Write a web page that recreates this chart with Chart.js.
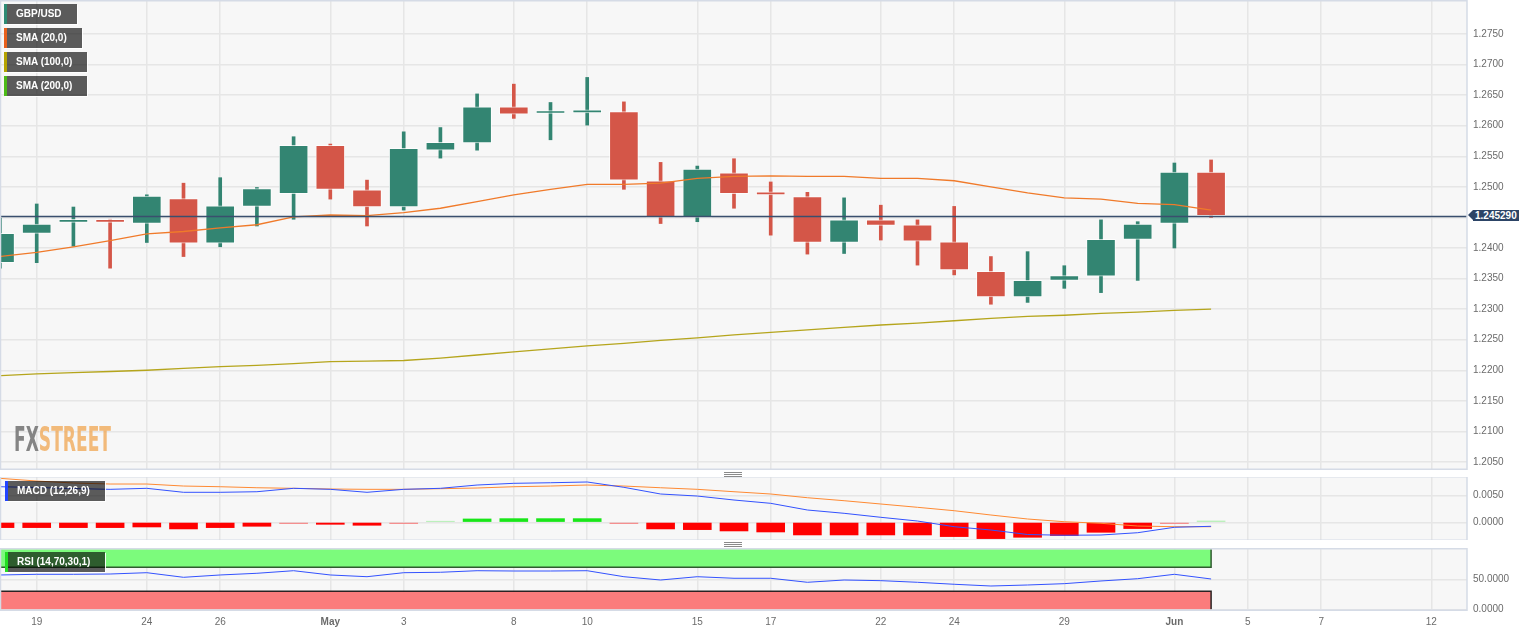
<!DOCTYPE html>
<html><head><meta charset="utf-8">
<script src="https://cdn.jsdelivr.net/npm/chart.js@4.4.0/dist/chart.umd.min.js"></script>
<style>
html,body{margin:0;padding:0;background:#fff;width:1536px;height:633px;overflow:hidden;font-family:"Liberation Sans",Arial,sans-serif;}
canvas{position:absolute;left:0;}
#c1{top:0}
#c2{top:477px}
#c3{top:548px}
.lg{position:absolute;height:20px;line-height:20px;background:rgba(0,0,0,0.63);color:#fff;font-weight:bold;font-size:10px;padding:0 15px 0 9px;border-left:3px solid;box-sizing:border-box;white-space:nowrap;box-shadow:1px 1px 0 rgba(255,255,255,0.9);}
.hd{position:absolute;left:724px;width:18px;height:1px;background:#8a8a8a;box-shadow:0 2px 0 #8a8a8a,0 4px 0 #8a8a8a;}
#tag{position:absolute;left:1473px;height:11px;line-height:11px;padding:0 2px;background:#2c4466;color:#fff;font-weight:bold;font-size:10px;}
#tag:before{content:"";position:absolute;left:-5px;top:0;border-top:5.5px solid transparent;border-bottom:5.5px solid transparent;border-right:5px solid #2c4466;}
#wm{position:absolute;left:14px;top:423px;font-family:"Liberation Sans Narrow","DejaVu Sans Condensed","Liberation Sans",sans-serif;font-weight:bold;font-size:33px;line-height:33px;transform-origin:0 0;white-space:nowrap;letter-spacing:0px;}
#wm .a{color:rgba(120,120,120,0.9)}
#wm .b{color:rgba(240,170,90,0.8)}
</style></head>
<body>
<canvas id="c1" width="1536" height="470"></canvas>
<canvas id="c2" width="1536" height="63"></canvas>
<canvas id="c3" width="1536" height="85"></canvas>
<div id="wm"><span class="a">FX</span><span class="b">STREET</span></div>
<div class="lg" style="left:4px;top:4px;border-left-color:#2e8b74">GBP/USD</div>
<div class="lg" style="left:4px;top:28px;border-left-color:#e8601c">SMA (20,0)</div>
<div class="lg" style="left:4px;top:52px;border-left-color:#b5a300">SMA (100,0)</div>
<div class="lg" style="left:4px;top:76px;border-left-color:#4cbb17">SMA (200,0)</div>
<div class="lg" style="left:5px;top:481px;border-left-color:#2244ff">MACD (12,26,9)</div>
<div class="lg" style="left:5px;top:552px;border-left-color:#22dd22">RSI (14,70,30,1)</div>
<div class="hd" style="top:472px"></div>
<div class="hd" style="top:542px"></div>
<div id="tag"></div>
<script>
// ---------- data ----------
const dates = ['04-18','04-19','04-20','04-21','04-24','04-25','04-26','04-27','04-28','05-01','05-02','05-03','05-04','05-05','05-08','05-09','05-10','05-11','05-12','05-15','05-16','05-17','05-18','05-19','05-22','05-23','05-24','05-25','05-26','05-29','05-30','05-31','06-01','06-02'];
const futureDates = ['06-05','06-06','06-07','06-08','06-09','06-12'];
const tickDates = ['04-19','04-24','04-26','05-01','05-03','05-08','05-10','05-15','05-17','05-22','05-24','05-29','06-01','06-05','06-07','06-12'];
const tickLabels = ['19','24','26','May','3','8','10','15','17','22','24','29','Jun','5','7','12'];
const monthLabels = ['May','Jun'];

const open  = [1.2376,1.2424,1.2442,1.2443,1.2440,1.2481,1.2408,1.2468,1.2489,1.2568,1.2495,1.2467,1.2560,1.2572,1.2631,1.2620,1.2621,1.2623,1.2510,1.2450,1.2523,1.2488,1.2484,1.2409,1.2446,1.2438,1.2410,1.2362,1.2320,1.2347,1.2354,1.2414,1.2440,1.2524];
const high  = [1.2449,1.2472,1.2467,1.2447,1.2487,1.2506,1.2515,1.2499,1.2582,1.2570,1.2511,1.2590,1.2597,1.2652,1.2668,1.2638,1.2679,1.2639,1.2540,1.2534,1.2546,1.2508,1.2491,1.2482,1.2470,1.2446,1.2468,1.2386,1.2394,1.2371,1.2446,1.2443,1.2539,1.2544];
const low   = [1.2367,1.2376,1.2403,1.2367,1.2409,1.2386,1.2402,1.2436,1.2447,1.2480,1.2436,1.2462,1.2547,1.2560,1.2612,1.2577,1.2601,1.2496,1.2440,1.2443,1.2465,1.2421,1.2390,1.2391,1.2413,1.2372,1.2356,1.2308,1.2311,1.2334,1.2327,1.2347,1.2400,1.2450];
const close = [1.2424,1.2439,1.2443,1.2442,1.2485,1.2408,1.2469,1.2497,1.2568,1.2496,1.2467,1.2563,1.2573,1.2631,1.2619,1.2621,1.2626,1.2511,1.2450,1.2529,1.2489,1.2487,1.2409,1.2446,1.2437,1.2411,1.2364,1.2320,1.2347,1.2355,1.2414,1.2439,1.2524,1.24529];

const sma20  = [1.2386,1.2393,1.2402,1.2412,1.2423,1.2427,1.2433,1.2438,1.2451,1.2454,1.2453,1.2458,1.2465,1.2476,1.2487,1.2496,1.2504,1.2504,1.2506,1.2514,1.2517,1.2518,1.2517,1.2517,1.2514,1.2514,1.2510,1.2500,1.2490,1.2482,1.2480,1.2473,1.2471,1.2462];
const sma100 = [1.2191,1.2194,1.2196,1.2198,1.2200,1.2203,1.2206,1.2208,1.2211,1.2214,1.2215,1.2216,1.2220,1.2225,1.2230,1.2235,1.2240,1.2244,1.2249,1.2253,1.2258,1.2262,1.2266,1.2270,1.2274,1.2277,1.2281,1.2285,1.2288,1.2290,1.2293,1.2295,1.2298,1.2300];

const macd   = [0.00669,0.00654,0.00635,0.00620,0.00639,0.00564,0.00564,0.00575,0.00639,0.00620,0.00564,0.00620,0.00639,0.00701,0.00733,0.00744,0.00758,0.00658,0.00532,0.00494,0.00419,0.00357,0.00231,0.00169,0.00094,0.00024,-0.00083,-0.00145,-0.00230,-0.00244,-0.00239,-0.00196,-0.00094,-0.00075];
const signal = [0.00827,0.00776,0.00739,0.00720,0.00720,0.00682,0.00669,0.00650,0.00639,0.00626,0.00620,0.00620,0.00632,0.00645,0.00669,0.00682,0.00701,0.00682,0.00650,0.00620,0.00575,0.00532,0.00462,0.00406,0.00344,0.00282,0.00218,0.00137,0.00062,0.00011,-0.00019,-0.00070,-0.00083,-0.00083];
const hist   = [-0.00100,-0.00100,-0.00100,-0.00100,-0.00088,-0.00125,-0.00100,-0.00075,-0.00025,-0.00038,-0.00056,-0.00025,0.00020,0.00063,0.00069,0.00069,0.00069,-0.00025,-0.00125,-0.00138,-0.00163,-0.00182,-0.00238,-0.00238,-0.00238,-0.00238,-0.00269,-0.00307,-0.00282,-0.00250,-0.00188,-0.00118,-0.00025,0.00025];

const rsi = [57.2,58.3,58.3,58.8,61.0,53.3,57.2,60.0,64.3,57.2,54.3,61.0,61.7,64.3,63.8,63.8,64.3,54.3,48.8,54.3,51.7,51.7,45.0,48.8,47.7,45.0,41.7,38.8,40.5,42.7,47.2,51.0,58.3,50.5];
const rsiLevels = {overbought:70, oversold:30, top:100, bottom:0};

const priceTicks = [1.2050,1.2100,1.2150,1.2200,1.2250,1.2300,1.2350,1.2400,1.2450,1.2500,1.2550,1.2600,1.2650,1.2700,1.2750];
const macdTicks = [0, 0.005];
const rsiTicks = [0, 50];

// ---------- helpers ----------
const allDates = dates.concat(futureDates);
const tickPos = tickDates.map(d => allDates.indexOf(d));
const idx = dates.map((d,i) => i);
const pts = arr => arr.map((v,i) => ({x:i, y:v}));
const last = dates.length - 1;

const GREEN = '#338572', RED = '#d45648';
const GRID = '#e6e6e6';
const X_MIN = 0.027, X_MAX = 39.973;

Chart.defaults.font.family = '"Liberation Sans", Arial, sans-serif';
Chart.defaults.font.size = 10;
Chart.defaults.color = '#6b6b6b';

function xScale(showLabels){
  return {
    type:'linear', min:X_MIN, max:X_MAX, offset:false,
    border:{display:false},
    grid:{color:GRID, lineWidth:1.5, drawTicks:false, offset:false},
    ticks:{display:true, autoSkip:false, maxRotation:0, padding:6,
      color: showLabels ? '#6b6b6b' : 'rgba(0,0,0,0)',
      font: ctx => ({size:10, weight: (ctx.tick && monthLabels.includes(ctx.tick.label)) ? 'bold' : 'normal'}),
      callback: v => { if (!showLabels) return ''; const k = tickPos.indexOf(v); return k >= 0 ? tickLabels[k] : ''; }},
    afterBuildTicks: s => { s.ticks = tickPos.map(v => ({value:v})); },
    afterFit: s => { s.height = showLabels ? 23 : 0; s.paddingLeft = 0; s.paddingRight = 0; }
  };
}
function yScale(min, max, ticks, fmt){
  return {
    type:'linear', position:'right', min:min, max:max,
    border:{display:false},
    grid:{color:GRID, lineWidth:1.5, drawTicks:false},
    ticks:{padding:6, color:'#6b6b6b', font:{size:10}, callback: v => fmt(v)},
    afterBuildTicks: s => { s.ticks = ticks.map(v => ({value:v})); },
    afterFit: s => { s.width = 69; s.paddingTop = 0; s.paddingBottom = 0; }
  };
}
const panel = {
  id:'panel',
  beforeDraw(chart){
    const {ctx, chartArea:a} = chart;
    ctx.save(); ctx.fillStyle = '#f7f7f7';
    ctx.fillRect(a.left, a.top, a.right - a.left, a.bottom - a.top); ctx.restore();
  },
  afterDraw(chart){
    const {ctx, chartArea:a} = chart;
    ctx.save(); ctx.strokeStyle = '#d5dbe6'; ctx.lineWidth = 1.5;
    ctx.strokeRect(a.left - 0.5, a.top - 0.25, a.right - a.left + 0.5, a.bottom - a.top + 0.5); ctx.restore();
  }
};
const priceLine = {
  id:'priceLine',
  afterDatasetsDraw(chart){
    const {ctx, chartArea:a, scales} = chart;
    const y = Math.round(scales.y.getPixelForValue(close[last])) + 0.5;
    ctx.save(); ctx.strokeStyle = '#3a4f6e'; ctx.lineWidth = 1.4;
    ctx.beginPath(); ctx.moveTo(a.left, y); ctx.lineTo(a.right, y); ctx.stroke(); ctx.restore();
  }
};
const common = {responsive:false, animation:false, devicePixelRatio:1, events:[],
  plugins:{legend:{display:false}, tooltip:{enabled:false}}};

// ---------- main price chart ----------
const candleColor = ctx => close[ctx.dataIndex] >= open[ctx.dataIndex] ? GREEN : RED;
const chart1 = new Chart(document.getElementById('c1'), {
  type:'bar',
  data:{datasets:[
    {type:'line', label:'SMA (20,0)', data:pts(sma20), borderColor:'#f07a2a', borderWidth:1.3, pointRadius:0, tension:0, order:0},
    {type:'line', label:'SMA (100,0)', data:pts(sma100), borderColor:'#b5a51c', borderWidth:1.3, pointRadius:0, tension:0, order:0},
    {label:'body', data:idx.map(i => ({x:i, y:[open[i], close[i]]})), backgroundColor:candleColor,
      borderColor:'rgba(255,255,255,0.7)', borderWidth:1, borderSkipped:false, barThickness:29, minBarLength:3, grouped:false, order:1},
    {label:'wick', data:idx.map(i => ({x:i, y:[low[i], high[i]]})), backgroundColor:candleColor,
      borderWidth:0, barThickness:3, grouped:false, order:2}
  ]},
  options:Object.assign({}, common, {
    layout:{padding:{top:1, bottom:1, left:1, right:0}},
    scales:{x:xScale(false), y:yScale(1.20385, 1.28040, priceTicks, v => v.toFixed(4))}
  }),
  plugins:[panel, priceLine]
});

// ---------- MACD ----------
const histColor = ctx => {
  const v = hist[ctx.dataIndex], small = Math.abs(v) < 0.0003;
  return v >= 0 ? (small ? '#b4efb4' : '#19e619') : (small ? '#f58a8a' : '#ff0000');
};
new Chart(document.getElementById('c2'), {
  type:'bar',
  data:{datasets:[
    {type:'line', label:'MACD', data:pts(macd), borderColor:'#3352ff', borderWidth:1, pointRadius:0, tension:0, order:0},
    {type:'line', label:'Signal', data:pts(signal), borderColor:'#ff8a33', borderWidth:1, pointRadius:0, tension:0, order:0},
    {label:'Histogram', data:pts(hist), backgroundColor:histColor, borderWidth:0, barThickness:28, grouped:false, order:1}
  ]},
  options:Object.assign({}, common, {
    layout:{padding:{top:0, bottom:0, left:1, right:0}},
    scales:{x:xScale(false), y:yScale(-0.00333, 0.00852, macdTicks, v => v.toFixed(4))}
  }),
  plugins:[panel]
});

// ---------- RSI ----------
const band = v => [{x:0, y:v}, {x:last, y:v}];
new Chart(document.getElementById('c3'), {
  type:'line',
  data:{datasets:[
    {label:'RSI', data:pts(rsi), borderColor:'#3352ff', borderWidth:1, pointRadius:0, tension:0, order:0},
    {label:'ob-top', data:band(rsiLevels.top), borderWidth:0, pointRadius:0, fill:'+1', backgroundColor:'#7cfb7c', order:5},
    {label:'ob-bottom', data:band(rsiLevels.overbought), borderWidth:0, pointRadius:0, fill:false, order:5},
    {label:'os-top', data:band(rsiLevels.oversold), borderWidth:0, pointRadius:0, fill:'+1', backgroundColor:'#fb7c7c', order:5},
    {label:'os-bottom', data:band(rsiLevels.bottom), borderWidth:0, pointRadius:0, fill:false, order:5},
    {label:'ob-edge', data:[{x:0,y:rsiLevels.overbought},{x:last,y:rsiLevels.overbought},{x:last,y:rsiLevels.top}], borderColor:'#2f5a2f', borderWidth:1.5, pointRadius:0, fill:false, order:4},
    {label:'os-edge', data:[{x:0,y:rsiLevels.oversold},{x:last,y:rsiLevels.oversold},{x:last,y:rsiLevels.bottom}], borderColor:'#2a2222', borderWidth:1.5, pointRadius:0, fill:false, order:4}
  ]},
  options:Object.assign({}, common, {
    layout:{padding:{top:1, bottom:0, left:1, right:0}},
    scales:{x:xScale(true), y:yScale(-1.2, 100.5, rsiTicks, v => v.toFixed(4))}
  }),
  plugins:[panel]
});

// ---------- overlays ----------
const tag = document.getElementById('tag');
tag.textContent = close[last].toFixed(6);
tag.style.top = (chart1.scales.y.getPixelForValue(close[last]) - 5.5) + 'px';
const wm = document.getElementById('wm');
const w = wm.getBoundingClientRect().width;
wm.style.transform = 'scaleX(' + (97 / w) + ')';
</script>
</body></html>
